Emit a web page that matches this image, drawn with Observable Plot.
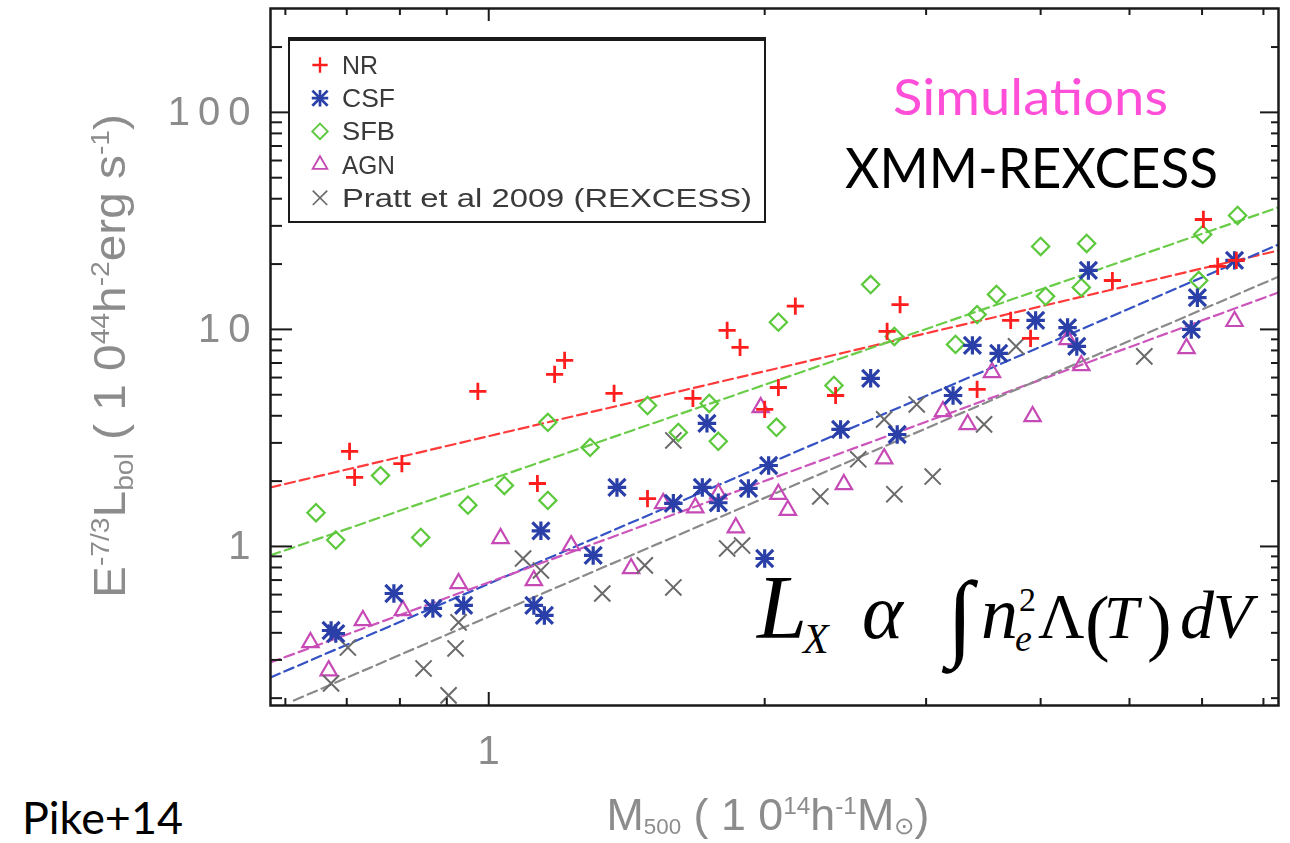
<!DOCTYPE html>
<html>
<head>
<meta charset="utf-8">
<script src="https://cdn.jsdelivr.net/npm/d3@7"></script>
<script src="https://cdn.jsdelivr.net/npm/@observablehq/plot@0.6"></script>
<style>
  body { margin: 0; background: #fff; }
  #wrap { position: relative; width: 1290px; height: 843px; overflow: hidden; background: #fff; }
  #wrap svg.layer { position: absolute; left: 0; top: 0; }
  #wrap g[aria-label="y-axis tick label"] text { letter-spacing: 8px; }
</style>
</head>
<body>
<div id="wrap"></div>
<script>
// ---- cluster samples: M500 (1e14 h^-1 Msun) and E^-7/3 Lbol (1e44 h^-2 erg/s) ----
const nrMass = [0.705, 0.714, 0.804, 0.973, 1.18, 1.21, 1.37, 1.67, 1.82, 1.88, 2.07, 2.00, 1.13, 1.49, 2.16, 2.81, 2.72, 2.39, 3.41, 3.71, 3.90, 4.79, 6.02, 6.24, 6.54];
const nrLum  = [2.74, 2.08, 2.41, 5.18, 6.20, 7.20, 5.07, 4.81, 9.89, 8.26, 5.40, 4.28, 1.95, 1.66, 12.8, 13.0, 9.79, 4.96, 5.29, 11.0, 9.09, 16.8, 32.1, 19.5, 20.8];

const csfMass = [1.38, 1.71, 1.92, 1.59, 1.78, 1.14, 1.30, 0.788, 0.869, 0.939, 1.12, 1.15, 0.673, 0.681, 2.00, 2.61, 3.37, 3.60, 3.95, 4.28, 4.38, 4.51, 5.93, 5.84, 6.51, 3.21, 2.42, 2.79, 1.73, 2.02];
const csfLum  = [1.87, 1.87, 1.85, 1.58, 1.59, 1.18, 0.909, 0.607, 0.518, 0.535, 0.535, 0.481, 0.410, 0.397, 0.880, 5.95, 8.44, 7.75, 11.0, 10.2, 8.35, 18.7, 14.0, 10.0, 20.8, 4.96, 3.46, 3.28, 3.69, 2.36];

const sfbMass = [0.648, 0.681, 0.762, 0.843, 0.949, 1.04, 1.16, 1.16, 1.29, 1.49, 1.61, 1.74, 1.78, 2.07, 2.06, 2.61, 2.77, 3.58, 3.41, 3.23, 4.00, 4.49, 4.05, 4.43, 5.95, 6.01, 6.56, 2.38];
const sfbLum  = [1.43, 1.07, 2.12, 1.10, 1.55, 1.91, 1.63, 3.73, 2.86, 4.46, 3.35, 4.56, 3.05, 10.8, 3.54, 16.1, 9.28, 14.5, 11.7, 8.53, 24.1, 24.9, 14.2, 15.6, 16.8, 27.4, 33.5, 5.52];

const agnMass = [1.03, 1.23, 0.927, 0.806, 0.729, 0.639, 0.669, 1.12, 1.43, 1.55, 1.68, 1.78, 1.86, 2.07, 2.12, 1.98, 4.28, 4.43, 3.54, 3.13, 3.33, 3.92, 5.77, 6.51, 2.70, 2.44];
const agnLum  = [1.09, 1.01, 0.675, 0.507, 0.456, 0.361, 0.268, 0.697, 0.792, 1.58, 1.51, 1.75, 1.22, 1.74, 1.47, 4.37, 9.0, 6.82, 6.34, 4.19, 3.65, 3.97, 8.18, 10.9, 2.54, 1.93];

const prattMass = [1.09, 1.14, 0.927, 0.92, 0.849, 0.702, 0.673, 0.904, 1.33, 1.48, 1.59, 1.82, 1.89, 1.59, 2.93, 2.70, 3.47, 3.76, 5.19, 2.53, 2.30, 2.77, 3.05];
const prattLum  = [0.88, 0.775, 0.447, 0.339, 0.274, 0.342, 0.234, 0.206, 0.607, 0.818, 0.647, 0.979, 1.01, 3.08, 4.51, 3.85, 3.65, 8.35, 7.51, 2.52, 1.70, 1.74, 2.10];

// ---- best-fit power laws, given by their end points ----
const nrFitMass = [0.578, 7.27],    nrFitLum = [1.87, 23.1];
const sfbFitMass = [0.578, 7.27],   sfbFitLum = [0.91, 36.5];
const csfFitMass = [0.578, 7.27],   csfFitLum = [0.249, 24.6];
const agnFitMass = [0.578, 7.27],   agnFitLum = [0.292, 14.8];
const prattFitMass = [0.613, 7.27], prattFitLum = [0.195, 17.5];

// ---- axes ----
const xDomain = [0.578, 7.27];
const yDomain = [0.185, 301];
const xMajor = [1];
const xMinor = [0.6, 0.7, 0.8, 0.9, 2, 3, 4, 5, 6, 7];
const yMajor = [1, 10, 100];
const yMinor = [0.2, 0.3, 0.4, 0.5, 0.6, 0.7, 0.8, 0.9, 2, 3, 4, 5, 6, 7, 8, 9, 20, 30, 40, 50, 60, 70, 80, 90, 200];

const seriesNames = ["NR", "CSF", "SFB", "AGN", "Pratt et al 2009 (REXCESS)"];
const colors = {NR: "#ff1e1e", CSF: "#2a3fa8", SFB: "#5cc83c", AGN: "#c64ab6", Pratt: "#6a6a6a"};
const lineColors = {NR: "#ff3a3a", CSF: "#3452c4", SFB: "#6acc48", AGN: "#cc55bb", Pratt: "#8a8a8a"};

const W = 1290, H = 843, mL = 270, mR = 12, mT = 8, mB = 138;
const innerW = W - mL - mR, innerH = H - mT - mB;

const rows = (mass, lum) => mass.map((m, i) => ({m, l: lum[i]}));
const fitLine = (mass, lum, color) =>
  Plot.line(rows(mass, lum), {x: "m", y: "l", stroke: color, strokeWidth: 2.2, strokeDasharray: "10,5", clip: true});

const tickStyle = {stroke: "#1a1a1a", strokeWidth: 2};

// marker shapes: [symbol, radius, stroke width]
const shapes = {
  NR: [["plus", 5.6, 2.8]],
  CSF: [["plus", 6, 3.2], ["times", 7.8, 3.2]],
  SFB: [["diamond2", 7.8, 2.2]],
  AGN: [["triangle2", 7.8, 2.2]],
  Pratt: [["times", 7.4, 2]]
};
const dots = (mass, lum, key) => shapes[key].map(([symbol, r, sw]) =>
  Plot.dot(rows(mass, lum), {x: "m", y: "l", symbol, r, stroke: colors[key], strokeWidth: sw}));

const chart = Plot.plot({
  width: W, height: H,
  marginLeft: mL, marginRight: mR, marginTop: mT, marginBottom: mB,
  style: {fontFamily: "'Liberation Sans', Arial, sans-serif", background: "transparent"},
  x: {type: "log", domain: xDomain},
  y: {type: "log", domain: yDomain},
  marks: [
    fitLine(nrFitMass, nrFitLum, lineColors.NR),
    fitLine(sfbFitMass, sfbFitLum, lineColors.SFB),
    fitLine(csfFitMass, csfFitLum, lineColors.CSF),
    fitLine(agnFitMass, agnFitLum, lineColors.AGN),
    fitLine(prattFitMass, prattFitLum, lineColors.Pratt),

    ...dots(agnMass, agnLum, "AGN"),
    ...dots(prattMass, prattLum, "Pratt"),
    ...dots(sfbMass, sfbLum, "SFB"),
    ...dots(csfMass, csfLum, "CSF"),
    ...dots(nrMass, nrLum, "NR"),

    // inward ticks on all four sides
    Plot.tickX(xMajor, {x: d => d, insetTop: innerH - 13, ...tickStyle}),
    Plot.tickX(xMinor, {x: d => d, insetTop: innerH - 7, ...tickStyle}),
    Plot.tickX(xMajor, {x: d => d, insetBottom: innerH - 13, ...tickStyle}),
    Plot.tickX(xMinor, {x: d => d, insetBottom: innerH - 7, ...tickStyle}),
    Plot.tickY(yMajor, {y: d => d, insetRight: innerW - 22, ...tickStyle}),
    Plot.tickY(yMinor, {y: d => d, insetRight: innerW - 12, ...tickStyle}),
    Plot.tickY(yMajor, {y: d => d, insetLeft: innerW - 18, ...tickStyle}),
    Plot.tickY(yMinor, {y: d => d, insetLeft: innerW - 7, ...tickStyle}),

    Plot.axisY(yMajor, {anchor: "left", tickSize: 0, tickPadding: 12, fontSize: 40, fill: "#8c8c8c", label: null, tickFormat: d => String(d)}),
    Plot.axisX(xMajor, {anchor: "bottom", tickSize: 0, tickPadding: 30, fontSize: 40, fill: "#8c8c8c", label: null, tickFormat: d => String(d)}),
    Plot.frame({stroke: "#1a1a1a", strokeWidth: 2.5})
  ]
});
chart.classList.add("layer");
chart.style.filter = "blur(0.5px)";

const wrap = document.getElementById("wrap");
wrap.appendChild(chart);

// ---- soft layer: axis titles and legend ----
const soft = d3.select(wrap).append("svg")
  .attr("class", "layer").attr("width", W).attr("height", H)
  .style("filter", "blur(0.5px)");

const sans = "'Liberation Sans', Arial, sans-serif";

// y-axis title (rotated)
const yt = soft.append("text")
  .attr("transform", "translate(125,356) rotate(-90)")
  .attr("text-anchor", "middle")
  .attr("font-family", sans).attr("font-size", 44).attr("fill", "#8c8c8c")
  .attr("textLength", 484).attr("lengthAdjust", "spacingAndGlyphs");
yt.append("tspan").text("E");
yt.append("tspan").attr("dy", -16).attr("font-size", 26).text("-7/3");
yt.append("tspan").attr("dy", 16).text("L");
yt.append("tspan").attr("dy", 8).attr("font-size", 26).text("bol");
yt.append("tspan").attr("dy", -8).text(" ( 1 0");
yt.append("tspan").attr("dy", -16).attr("font-size", 26).text("44");
yt.append("tspan").attr("dy", 16).text("h");
yt.append("tspan").attr("dy", -16).attr("font-size", 26).text("-2");
yt.append("tspan").attr("dy", 16).text("erg s");
yt.append("tspan").attr("dy", -16).attr("font-size", 26).text("-1");
yt.append("tspan").attr("dy", 16).text(")");

// x-axis title
const xt = soft.append("text")
  .attr("x", 768).attr("y", 830)
  .attr("text-anchor", "middle")
  .attr("font-family", sans).attr("font-size", 44).attr("fill", "#8c8c8c")
  .attr("textLength", 323).attr("lengthAdjust", "spacingAndGlyphs");
xt.append("tspan").text("M");
xt.append("tspan").attr("dy", 4).attr("font-size", 22).text("500");
xt.append("tspan").attr("dy", -4).text(" ( 1 0");
xt.append("tspan").attr("dy", -16).attr("font-size", 24).text("14");
xt.append("tspan").attr("dy", 16).text("h");
xt.append("tspan").attr("dy", -16).attr("font-size", 24).text("-1");
xt.append("tspan").attr("dy", 16).text("M");
xt.append("tspan").attr("dy", 4).attr("font-size", 24).text("\u2299");
xt.append("tspan").attr("dy", -4).text(")");

// legend
const lg = soft.append("g");
lg.append("rect").attr("x", 289).attr("y", 38).attr("width", 476).attr("height", 184)
  .attr("fill", "#fff").attr("stroke", "#1a1a1a").attr("stroke-width", 2);
lg.append("line").attr("x1", 289).attr("x2", 765).attr("y1", 39).attr("y2", 39)
  .attr("stroke", "#1a1a1a").attr("stroke-width", 4);

const symbolTypes = {plus: d3.symbolPlus, times: d3.symbolTimes, diamond2: d3.symbolDiamond2, triangle2: d3.symbolTriangle2};
const legendKeys = ["NR", "CSF", "SFB", "AGN", "Pratt"];
const legendWidths = [36, 53, 53, 53, 410];
seriesNames.forEach((name, i) => {
  const cy = 65 + i * 33.2;
  const key = legendKeys[i];
  shapes[key].forEach(([type, r, sw]) => {
    lg.append("path")
      .attr("d", d3.symbol(symbolTypes[type], Math.PI * r * r * 0.8)())
      .attr("transform", `translate(320,${cy})`)
      .attr("fill", "none").attr("stroke", colors[key]).attr("stroke-width", sw * 0.85);
  });
  lg.append("text")
    .attr("x", 342).attr("y", cy + 9)
    .attr("font-family", sans).attr("font-size", 25).attr("fill", "#3a3a3a")
    .attr("textLength", legendWidths[i]).attr("lengthAdjust", "spacingAndGlyphs")
    .text(name);
});

// ---- crisp layer: annotations ----
const sharp = d3.select(wrap).append("svg")
  .attr("class", "layer").attr("width", W).attr("height", H);

const geo = "Lato, 'Open Sans', sans-serif";
sharp.append("text").attr("x", 893).attr("y", 115)
  .attr("font-family", geo).attr("font-size", 50).attr("fill", "#ff4fd8")
  .attr("textLength", 275).attr("lengthAdjust", "spacingAndGlyphs")
  .text("Simulations");
sharp.append("text").attr("x", 845).attr("y", 188)
  .attr("font-family", geo).attr("font-size", 56).attr("fill", "#000")
  .attr("textLength", 373).attr("lengthAdjust", "spacingAndGlyphs")
  .text("XMM-REXCESS");
sharp.append("text").attr("x", 22).attr("y", 834)
  .attr("font-family", geo).attr("font-size", 44).attr("fill", "#000")
  .attr("textLength", 161).attr("lengthAdjust", "spacingAndGlyphs")
  .text("Pike+14");

// X-ray luminosity relation
const serif = "'Liberation Serif', 'Times New Roman', serif";
const formula = [
  {t: "L", x: 757, y: 638, s: 90, i: true},
  {t: "X", x: 803, y: 653, s: 42, i: true},
  {t: "\u03b1", x: 862, y: 638, s: 78, i: true},
  {t: "\u222b", x: 947, y: 648, s: 96, i: false},
  {t: "n", x: 981, y: 638, s: 74, i: true},
  {t: "2", x: 1019, y: 611, s: 34, i: false},
  {t: "e", x: 1015, y: 651, s: 38, i: true},
  {t: "\u039b", x: 1038, y: 638, s: 64, i: false},
  {t: "(", x: 1085, y: 647, s: 74, i: false},
  {t: "T", x: 1104, y: 638, s: 62, i: true},
  {t: ")", x: 1147, y: 647, s: 74, i: false},
  {t: "d", x: 1180, y: 638, s: 68, i: true},
  {t: "V", x: 1213, y: 638, s: 64, i: true}
];
const fg = sharp.append("g").attr("font-family", serif).attr("fill", "#000");
formula.forEach(p => {
  fg.append("text").attr("x", p.x).attr("y", p.y).attr("font-size", p.s)
    .attr("font-style", p.i ? "italic" : "normal").text(p.t);
});
</script>
</body>
</html>
